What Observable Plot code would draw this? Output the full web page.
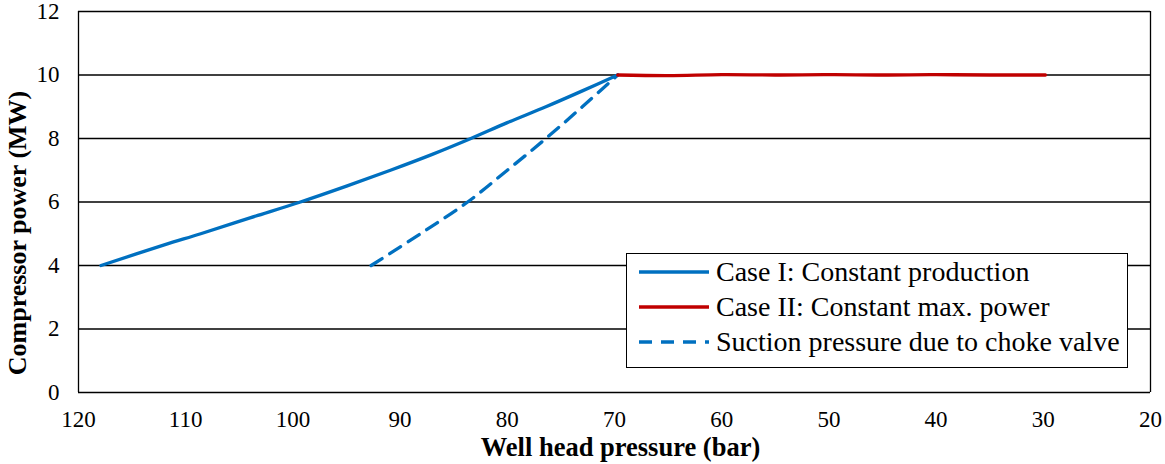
<!DOCTYPE html>
<html>
<head>
<meta charset="utf-8">
<script src="https://cdn.jsdelivr.net/npm/d3@7"></script>
<script src="https://cdn.jsdelivr.net/npm/@observablehq/plot@0.6"></script>
<style>
  html, body { margin: 0; padding: 0; background: #fff; }
  #wrap { position: relative; width: 1165px; height: 464px; font-family: "Liberation Serif", "Times New Roman", serif; }
  #legend { position: absolute; left: 626px; top: 253px; width: 502px; height: 115px; border: 1.5px solid #000; background: #fff; box-sizing: border-box; }
  .item { position: absolute; left: 0; height: 34px; display: flex; align-items: center; font-size: 28px; color: #000; white-space: nowrap; }
  .sw { width: 70px; margin-left: 12px; margin-right: 7px; }
</style>
</head>
<body>
<div id="wrap"></div>
<script>
// Data
const case1Pressure = [117.9, 112, 108.6, 104, 99.3, 95, 90.9, 87, 83.4, 80, 76.4, 73, 69.7];
const case1Power    = [4.0, 4.65, 5.0, 5.5, 6.0, 6.5, 7.0, 7.5, 8.0, 8.5, 9.0, 9.5, 10.0];
const case2Pressure = [69.7, 65, 60, 55, 50, 45, 40, 35, 29.8];
const case2Power    = [10.0, 9.98, 10.01, 10.0, 10.01, 10.0, 10.01, 10.0, 10.0];
const chokePressure = [92.7, 88.1, 83.7, 80.0, 76.4, 73, 69.7];
const chokePower    = [4.0, 5.0, 6.0, 7.0, 8.0, 9.0, 10.0];
const xTicks = [120, 110, 100, 90, 80, 70, 60, 50, 40, 30, 20];
const yTicks = [0, 2, 4, 6, 8, 10, 12];
const seriesNames = ["Case I: Constant production", "Case II: Constant max. power", "Suction pressure due to choke valve"];
const seriesColors = ["#0070C0", "#C00000", "#0070C0"];

const zip = (xs, ys) => xs.map((x, i) => ({x, y: ys[i]}));
const c1 = zip(case1Pressure, case1Power);
const c2 = zip(case2Pressure, case2Power);
const ch = zip(chokePressure, chokePower);

const chart = Plot.plot({
  width: 1165,
  height: 464,
  marginLeft: 78,
  marginRight: 15,
  marginTop: 11,
  marginBottom: 72,
  style: { fontFamily: "'Liberation Serif', 'Times New Roman', serif", fontSize: "23px", color: "#000", background: "#fff" },
  x: { domain: [120, 20] },
  y: { domain: [0, 12] },
  marks: [
    Plot.ruleY(yTicks, { stroke: "#000", strokeWidth: 1.3 }),
    Plot.ruleX([120, 20], { stroke: "#000", strokeWidth: 1.3 }),
    Plot.axisX({ ticks: xTicks, tickSize: 0, tickPadding: 18, label: null, fontSize: 23 }),
    Plot.axisY({ ticks: yTicks, tickSize: 0, tickPadding: 19, label: null, fontSize: 23 }),
    Plot.line(c1, { x: "x", y: "y", stroke: seriesColors[0], strokeWidth: 3.3, curve: "catmull-rom" }),
    Plot.line(ch, { x: "x", y: "y", stroke: seriesColors[2], strokeWidth: 3.3, strokeDasharray: "13,9", curve: "catmull-rom" }),
    Plot.line(c2, { x: "x", y: "y", stroke: seriesColors[1], strokeWidth: 3.3, curve: "catmull-rom" }),
    Plot.text(["Well head pressure (bar)"], { frameAnchor: "bottom", dx: 6, dy: 55, fontWeight: "bold", fontSize: 26.5, lineAnchor: "middle" }),
    Plot.text(["Compressor power (MW)"], { frameAnchor: "left", textAnchor: "middle", lineAnchor: "middle", rotate: -90, dx: -61, dy: 31, fontWeight: "bold", fontSize: 26 })
  ]
});
const wrap = document.getElementById("wrap");
wrap.appendChild(chart);

const legend = document.createElement("div");
legend.id = "legend";
const tops = [1, 36, 71];
seriesNames.forEach((name, i) => {
  const it = document.createElement("div");
  it.className = "item";
  it.style.top = tops[i] + "px";
  const dash = i === 2 ? 'stroke-dasharray="13,9"' : "";
  it.innerHTML = `<svg class="sw" width="70" height="10"><line x1="0" x2="70" y1="5" y2="5" stroke="${seriesColors[i]}" stroke-width="3.3" ${dash}/></svg><span>${name}</span>`;
  legend.appendChild(it);
});
wrap.appendChild(legend);
</script>
</body>
</html>
